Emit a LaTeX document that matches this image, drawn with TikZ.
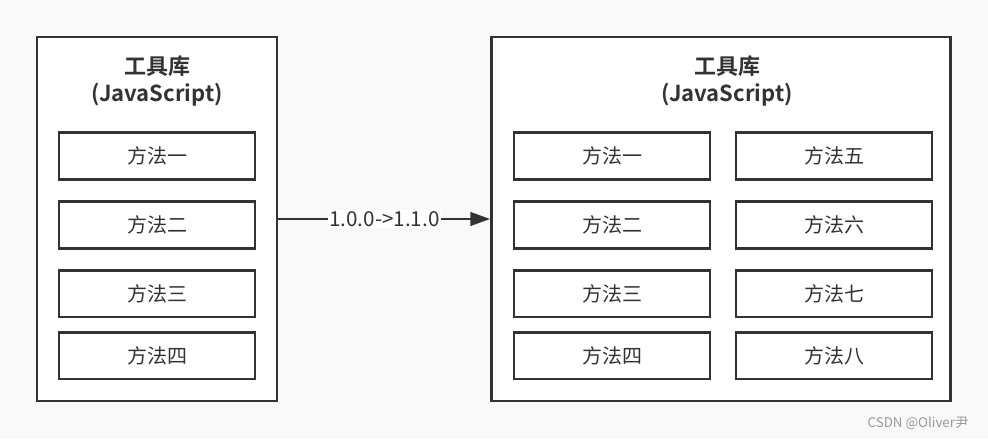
\documentclass[tikz,border=0pt]{standalone}
\usepackage{fontspec}
\setmainfont{Noto Sans CJK SC}[BoldFont={Noto Sans CJK SC Bold}]
\usetikzlibrary{arrows.meta}
\definecolor{linecol}{HTML}{333333}
\definecolor{bgcol}{HTML}{F9F9F9}
\definecolor{markcol}{HTML}{999999}

\begin{document}
\begin{tikzpicture}[x=0.75pt, y=-0.75pt,
    box/.style={draw=linecol, line width=2pt, fill=white, minimum width=147pt, minimum height=35pt, font=\fontsize{15}{18}\selectfont, text=linecol},
    lib/.style={draw=linecol, line width=2pt, fill=white},
    title/.style={font=\bfseries\fontsize{16.5}{20.5}\selectfont, text=linecol, align=center}]
    \fill[bgcol] (0,0) rectangle (988,439);
    \useasboundingbox (0,0) rectangle (988,439);
    % outer boxes
    \node[lib, minimum width=180pt, minimum height=273pt] (lib1) at (157,219) {};
    \node[lib, minimum width=344pt, minimum height=273pt] (lib2) at (721,219) {};
    \node[title] (t1) at (157,81) {工具库\\(JavaScript)};
    \node[title] (t2) at (727,81) {工具库\\(JavaScript)};
    % methods
    \foreach \y/\a/\b [count=\n] in {156/一/五, 225/二/六, 293.5/三/七, 355.5/四/八} {
        \node[box] (a\n) at (157,\y) {方法\a};
        \node[box] (b\n) at (612,\y) {方法\a};
        \node[box] (c\n) at (834,\y) {方法\b};
    }
    % upgrade
    \draw[linecol, line width=2.2pt, -{Triangle[length=15pt, width=10pt]}] (lib1.east) -- (lib2.west)
        node[midway, fill=white, inner sep=1pt, font=\fontsize{15.5}{18}\selectfont, text=linecol] (ver) {1.0.0->1.1.0};
    \node[text=markcol, font=\fontsize{10}{12}\selectfont] (mark) at (918,423) {CSDN @Oliver尹};
\end{tikzpicture}
\end{document}
